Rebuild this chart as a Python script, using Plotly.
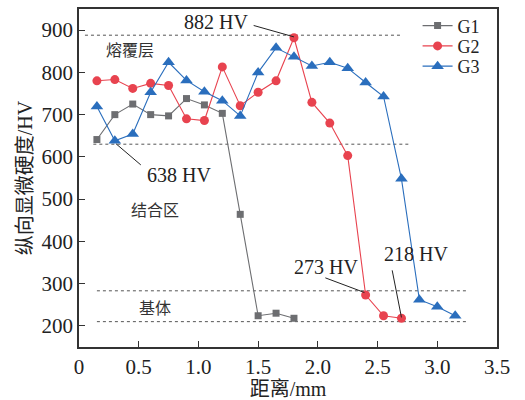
import plotly.graph_objects as go

x_g1 = [0.15, 0.3, 0.45, 0.6, 0.75, 0.9, 1.05, 1.2, 1.35, 1.5, 1.65, 1.8]
y_g1 = [641, 700, 725, 700, 697, 738, 723, 703, 464, 224, 230, 218]

x_g2 = [0.15, 0.3, 0.45, 0.6, 0.75, 0.9, 1.05, 1.2, 1.35, 1.5, 1.65, 1.8,
        1.95, 2.1, 2.25, 2.4, 2.55, 2.7]
y_g2 = [780, 783, 762, 774, 769, 690, 686, 813, 721, 753, 780, 882,
        729, 680, 603, 273, 224, 218]

x_g3 = [0.15, 0.3, 0.45, 0.6, 0.75, 0.9, 1.05, 1.2, 1.35, 1.5, 1.65, 1.8,
        1.95, 2.1, 2.25, 2.4, 2.55, 2.7, 2.85, 3.0, 3.15]
y_g3 = [719, 638, 654, 753, 824, 781, 754, 733, 697, 800, 858, 837,
        815, 824, 810, 776, 743, 548, 262, 245, 224]

# reference dotted lines: (y, x_start, x_end)
ref_lines = [(888, 0.05, 2.7), (630, 0.12, 2.78), (283, 0.15, 3.24), (210, 0.15, 3.24)]

region_labels = [("熔覆层", 0.43, 851), ("结合区", 0.635, 474), ("基体", 0.635, 241)]

# callouts: text, point x, point y, line start x, line start y, text x, text y
callouts = [("882 HV", 1.8, 884, 1.45, 912, 1.15, 920),
            ("638 HV", 0.31, 631, 0.53, 578, 0.84, 556),
            ("273 HV", 2.39, 279, 2.05, 315, 2.07, 340),
            ("218 HV", 2.70, 220, 2.62, 335, 2.82, 370)]

FONT = "Liberation Serif, Times New Roman, Noto Sans CJK SC, serif"

fig = go.Figure()
for yv, x0, x1 in ref_lines:
    fig.add_trace(go.Scatter(x=[x0, x1], y=[yv, yv], mode="lines",
                             line=dict(color="#555", width=1, dash="dot"),
                             showlegend=False, hoverinfo="skip"))

fig.add_trace(go.Scatter(x=x_g1, y=y_g1, mode="lines+markers", name="G1", legend="legend",
                         line=dict(color="#6d6e71", width=1.1),
                         marker=dict(symbol="square", size=7, color="#6d6e71")))
fig.add_trace(go.Scatter(x=x_g2, y=y_g2, mode="lines+markers", name="G2", legend="legend2",
                         line=dict(color="#e8434f", width=1.1),
                         marker=dict(symbol="circle", size=9, color="#e8434f")))
fig.add_trace(go.Scatter(x=x_g3, y=y_g3, mode="lines+markers", name="G3", legend="legend3",
                         line=dict(color="#2a6ebd", width=1.1),
                         marker=dict(symbol="triangle-up", size=11, color="#2a6ebd")))

for txt, xv, yv in region_labels:
    fig.add_annotation(x=xv, y=yv, text=txt, showarrow=False,
                       font=dict(size=16, color="#333", family=FONT))

for txt, px, py, lx, ly, tx, ty in callouts:
    fig.add_annotation(x=px, y=py, ax=lx, ay=ly, axref="x", ayref="y",
                       text="", showarrow=True, arrowhead=0, arrowwidth=1,
                       arrowcolor="#222", standoff=0)
    fig.add_annotation(x=tx, y=ty, text=txt, showarrow=False,
                       font=dict(size=20, color="#222", family=FONT))

axis_common = dict(showline=True, linecolor="#333", linewidth=1.5, mirror=True,
                   ticks="inside", ticklen=6, tickcolor="#333", showgrid=False,
                   zeroline=False, automargin=False,
                   tickfont=dict(size=21, color="#222", family=FONT))

fig.update_xaxes(range=[0, 3.5], tickvals=[0, 0.5, 1.0, 1.5, 2.0, 2.5, 3.0, 3.5],
                 ticktext=["0", "0.5", "1.0", "1.5", "2.0", "2.5", "3.0", "3.5"],
                 title=dict(text="距离/mm", font=dict(size=20, color="#222", family=FONT),
                            standoff=7),
                 **axis_common)
fig.update_yaxes(range=[150, 950], tickvals=[200, 300, 400, 500, 600, 700, 800, 900],
                 title=dict(text="纵向显微硬度/HV", font=dict(size=20, color="#222", family=FONT),
                            standoff=4),
                 **axis_common)

legend_common = dict(x=0.81, xanchor="left", yanchor="middle",
                     bgcolor="rgba(0,0,0,0)", borderwidth=0,
                     font=dict(size=18, color="#222", family=FONT))
fig.update_layout(width=525, height=400, margin=dict(l=79, r=28, t=7, b=53),
                  paper_bgcolor="white", plot_bgcolor="white",
                  legend=dict(y=0.95, **legend_common),
                  legend2=dict(y=0.89, **legend_common),
                  legend3=dict(y=0.83, **legend_common),
                  showlegend=True)

fig.write_html("out.html")
